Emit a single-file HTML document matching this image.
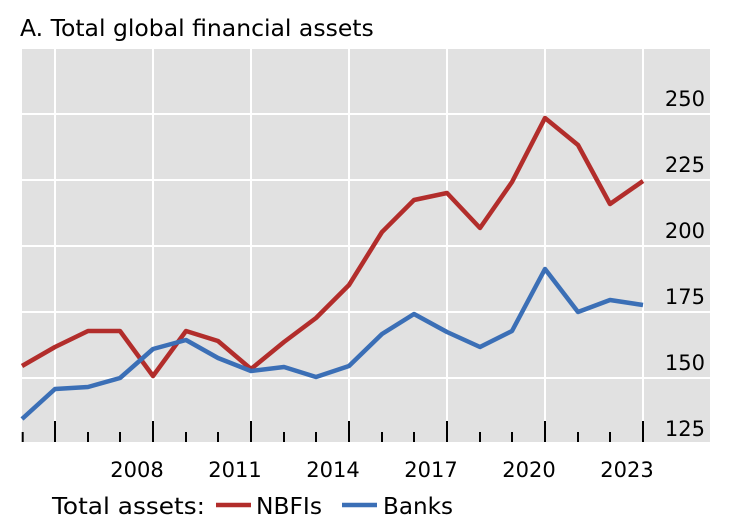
<!DOCTYPE html>
<html><head><meta charset="utf-8"><style>
body{margin:0;background:#fff;}
svg text{font-family:"DejaVu Sans","Liberation Sans",sans-serif;fill:#000;}
</style></head><body>
<svg width="732" height="525" viewBox="0 0 732 525" xmlns="http://www.w3.org/2000/svg">
<text x="20" y="36" font-size="23.5">A. Total global financial assets</text>
<rect x="22" y="49" width="688" height="393" fill="#e1e1e1"/>
<g stroke="#fff" stroke-width="2">
<line x1="22" y1="114" x2="710" y2="114"/>
<line x1="22" y1="180" x2="710" y2="180"/>
<line x1="22" y1="246" x2="710" y2="246"/>
<line x1="22" y1="312" x2="710" y2="312"/>
<line x1="22" y1="378" x2="710" y2="378"/>
<line x1="55" y1="49" x2="55" y2="442"/>
<line x1="153" y1="49" x2="153" y2="442"/>
<line x1="251" y1="49" x2="251" y2="442"/>
<line x1="349" y1="49" x2="349" y2="442"/>
<line x1="447" y1="49" x2="447" y2="442"/>
<line x1="545" y1="49" x2="545" y2="442"/>
<line x1="643" y1="49" x2="643" y2="442"/>
</g>
<g font-size="21" text-anchor="end">
<text x="705" y="106">250</text>
<text x="705" y="172">225</text>
<text x="705" y="238">200</text>
<text x="705" y="304">175</text>
<text x="705" y="370">150</text>
<text x="705" y="436">125</text>
</g>
<g stroke="#000" stroke-width="2">
<line x1="22.7" y1="432" x2="22.7" y2="442"/>
<line x1="55" y1="421" x2="55" y2="442"/>
<line x1="88" y1="432" x2="88" y2="442"/>
<line x1="120" y1="432" x2="120" y2="442"/>
<line x1="153" y1="421" x2="153" y2="442"/>
<line x1="186" y1="432" x2="186" y2="442"/>
<line x1="218" y1="432" x2="218" y2="442"/>
<line x1="251" y1="421" x2="251" y2="442"/>
<line x1="284" y1="432" x2="284" y2="442"/>
<line x1="316" y1="432" x2="316" y2="442"/>
<line x1="349" y1="421" x2="349" y2="442"/>
<line x1="382" y1="432" x2="382" y2="442"/>
<line x1="414" y1="432" x2="414" y2="442"/>
<line x1="447" y1="421" x2="447" y2="442"/>
<line x1="480" y1="432" x2="480" y2="442"/>
<line x1="512" y1="432" x2="512" y2="442"/>
<line x1="545" y1="421" x2="545" y2="442"/>
<line x1="578" y1="432" x2="578" y2="442"/>
<line x1="610" y1="432" x2="610" y2="442"/>
<line x1="643" y1="421" x2="643" y2="442"/>
</g>
<g font-size="21" text-anchor="middle">
<text x="137" y="477">2008</text>
<text x="235" y="477">2011</text>
<text x="333" y="477">2014</text>
<text x="431" y="477">2017</text>
<text x="529" y="477">2020</text>
<text x="627" y="477">2023</text>
</g>
<polyline fill="none" stroke="#b22d2b" stroke-width="4.5" stroke-linejoin="round" points="22,366 55,347 88,331 120,331 153,376 186,331 218,341 251,369 284,342 316,318 349,285 382,232 414,200 447,193 480,228 512,182 545,118 578,145 610,204 643,181"/>
<polyline fill="none" stroke="#3b6fb6" stroke-width="4.5" stroke-linejoin="round" points="22,419 55,389 88,387 120,378 153,349 186,340 218,358 251,371 284,367 316,377 349,366 382,334 414,314 447,332 480,347 512,331 545,269 578,312 610,300 643,305"/>
<text x="52" y="514" font-size="23" textLength="153" lengthAdjust="spacingAndGlyphs">Total assets:</text>
<line x1="216" y1="505" x2="251" y2="505" stroke="#b22d2b" stroke-width="4.5"/>
<text x="256" y="514" font-size="23" textLength="66" lengthAdjust="spacingAndGlyphs">NBFIs</text>
<line x1="342" y1="505" x2="377" y2="505" stroke="#3b6fb6" stroke-width="4.5"/>
<text x="383" y="514" font-size="23" textLength="70" lengthAdjust="spacingAndGlyphs">Banks</text>
</svg>
</body></html>
